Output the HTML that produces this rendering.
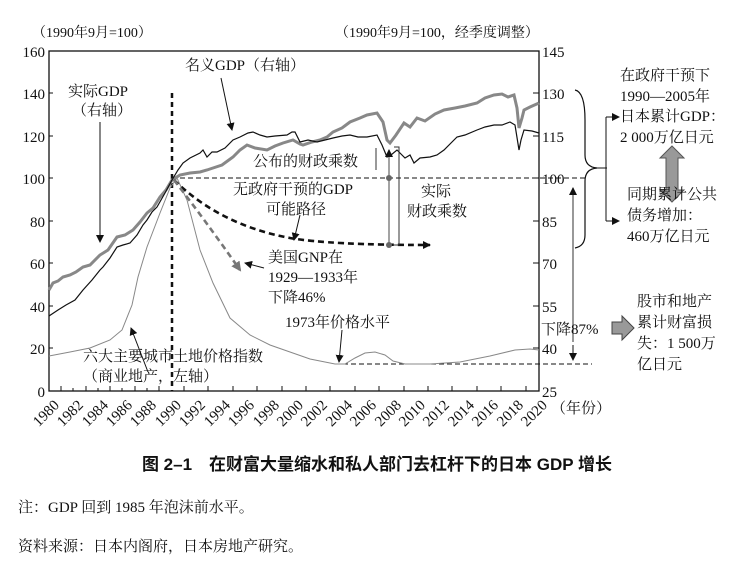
<!DOCTYPE html>
<html><head><meta charset="utf-8"><style>
body{margin:0;background:#fff;width:754px;height:572px;overflow:hidden}
svg text{font-family:"Liberation Serif","Noto Serif CJK SC",serif;fill:#111}
</style></head><body>
<svg width="754" height="572" viewBox="0 0 754 572" xmlns="http://www.w3.org/2000/svg">
<defs>
<marker id="a" markerWidth="8" markerHeight="8" refX="7" refY="4" orient="auto" markerUnits="userSpaceOnUse"><path d="M0,0L8,4L0,8Z" fill="#111"/></marker>
<marker id="g" markerWidth="10" markerHeight="10" refX="8" refY="5" orient="auto" markerUnits="userSpaceOnUse"><path d="M0,0L10,5L0,10Z" fill="#777"/></marker>
</defs>
<g font-size="14">
<text x="32" y="37">（1990年9月=100）</text>
<text x="335" y="37">（1990年9月=100，经季度调整）</text>
</g>
<rect x="49" y="51" width="490" height="340" fill="none" stroke="#111" stroke-width="1.3"/>
<g font-size="15" text-anchor="end">
<text x="45" y="57">160</text><text x="45" y="99">140</text><text x="45" y="142">120</text><text x="45" y="184">100</text><text x="45" y="227">80</text><text x="45" y="269">60</text><text x="45" y="312">40</text><text x="45" y="354">20</text><text x="45" y="397">0</text>
</g>
<g font-size="15">
<text x="542" y="57">145</text><text x="542" y="99">130</text><text x="542" y="142">115</text><text x="542" y="184">100</text><text x="542" y="227">85</text><text x="542" y="269">70</text><text x="542" y="312">55</text><text x="542" y="354">40</text><text x="542" y="397">25</text>
</g>
<g stroke="#111" stroke-width="1">
<path d="M533,93H539M533,136H539M533,178H539M533,221H539M533,263H539M533,306H539M533,348H539"/>
<path d="M49,93H53M49,136H53M49,178H53M49,221H53M49,263H53M49,306H53M49,348H53"/>
</g>
<g font-size="15" text-anchor="end">
<text transform="translate(60,406) rotate(-45)">1980</text>
<text transform="translate(84,406) rotate(-45)">1982</text>
<text transform="translate(109,406) rotate(-45)">1984</text>
<text transform="translate(133,406) rotate(-45)">1986</text>
<text transform="translate(157,406) rotate(-45)">1988</text>
<text transform="translate(182,406) rotate(-45)">1990</text>
<text transform="translate(206,406) rotate(-45)">1992</text>
<text transform="translate(231,406) rotate(-45)">1994</text>
<text transform="translate(255,406) rotate(-45)">1996</text>
<text transform="translate(280,406) rotate(-45)">1998</text>
<text transform="translate(304,406) rotate(-45)">2000</text>
<text transform="translate(328,406) rotate(-45)">2002</text>
<text transform="translate(353,406) rotate(-45)">2004</text>
<text transform="translate(377,406) rotate(-45)">2006</text>
<text transform="translate(402,406) rotate(-45)">2008</text>
<text transform="translate(426,406) rotate(-45)">2010</text>
<text transform="translate(450,406) rotate(-45)">2012</text>
<text transform="translate(475,406) rotate(-45)">2014</text>
<text transform="translate(499,406) rotate(-45)">2016</text>
<text transform="translate(524,406) rotate(-45)">2018</text>
<text transform="translate(548,406) rotate(-45)">2020</text>
</g>
<text x="551" y="413" font-size="15">（年份）</text>
<path d="M61,391V386M73,391V388M86,391V386M98,391V388M110,391V386M122,391V388M135,391V386M147,391V388M159,391V386M184,391V386M208,391V386M233,391V386M257,391V386M282,391V386M306,391V386M330,391V386M355,391V386M379,391V386M404,391V386M428,391V386M452,391V386M477,391V386M501,391V386M526,391V386" stroke="#111"/>
<path d="M172,93V391" stroke="#111" stroke-width="2.5" stroke-dasharray="5,4"/>
<path d="M180,178H585" stroke="#111" stroke-width="1" stroke-dasharray="5,3"/>
<path d="M335,364H592" stroke="#111" stroke-width="1" stroke-dasharray="5,3"/>
<polyline fill="none" stroke="#888" stroke-width="1" points="49,356 70,352 90,348 110,340 122,330 132,305 138,277 147,247 160,213 170,188 177,178 187,200 200,250 213,283 230,318 250,335 270,345 290,352 310,359 335,364 345,364 355,358 365,353 375,352 385,355 393,361 405,364 430,364 460,362 490,356 515,350 530,349 539,350"/>
<polyline fill="none" stroke="#888" stroke-width="3" points="49,290 53,283 58,281 63,277 70,275 76,272 83,267 90,265 100,255 108,250 117,237 125,235 133,230 140,222 147,213 153,208 160,197 166,190 172,180 180,175 190,173 200,172 207,170 213,168 222,165 233,157 240,150 247,145 255,148 267,150 275,146 283,143 293,140 300,144 303,145 312,142 320,140 327,137 333,132 342,128 350,122 360,118 367,115 377,113 383,122 387,140 390,143 396,135 404,123 410,127 417,118 425,121 435,114 444,110 455,108 465,106 477,103 485,98 494,95 502,94 508,97 514,95 517,108 519,128 522,118 524,110 530,107 539,103"/>
<polyline fill="none" stroke="#111" stroke-width="1.2" points="49,316 58,310 66,305 75,300 83,290 92,280 100,270 103,267 110,258 117,247 123,245 130,243 137,235 143,225 147,220 152,212 157,207 165,193 172,180 178,170 183,163 190,158 200,153 203,150 207,157 212,152 217,152 225,148 233,140 240,137 248,133 253,132 260,135 267,137 275,136 287,135 292,132 295,132 300,142 308,140 317,142 325,140 333,138 342,136 350,135 358,137 367,137 377,135 382,145 387,157 391,155 397,150 405,158 410,155 414,163 420,158 430,157 437,155 444,150 452,142 457,137 465,135 477,130 485,127 494,125 502,125 510,122 515,125 519,150 521,140 524,130 532,131 539,133"/>
<path d="M174,180 Q220,225 290,238 Q330,245 430,245" fill="none" stroke="#111" stroke-width="2.6" stroke-dasharray="6,4" marker-end="url(#a)"/>
<path d="M174,180 Q205,220 240,270" fill="none" stroke="#777" stroke-width="2.6" stroke-dasharray="6,4" marker-end="url(#g)"/>
<path d="M389,245V150" stroke="#666" stroke-width="1.2" marker-end="url(#a)"/>
<circle cx="389" cy="178" r="3" fill="#666"/><circle cx="389" cy="245" r="3" fill="#666"/>
<path d="M394,147H399V245H394" fill="none" stroke="#333" stroke-width="1"/>
<path d="M376,148V170" stroke="#333"/>
<path d="M575,90 Q585,92 585,120 L585,155 Q585,167 597,168 Q585,169 585,181 L585,235 Q585,246 575,248" fill="none" stroke="#111" stroke-width="1.2"/>
<path d="M597,168H607M606,117V221M606,117H618M606,221H618" fill="none" stroke="#111"/>
<path d="M612,113L620,117L612,121ZM612,217L620,221L612,225Z" fill="#111"/>
<path d="M573,342V188" stroke="#555" stroke-width="1.2" marker-end="url(#a)"/>
<path d="M573,345V360" stroke="#111" marker-end="url(#a)"/>
<path d="M672,146L684,158H678V190H684L672,202L660,190H666V158H660Z" fill="#999" stroke="#555"/>
<path d="M612,322H622V316L634,328L622,340V334H612Z" fill="#999" stroke="#444"/>
<path d="M100,122V242" stroke="#111" marker-end="url(#a)"/>
<path d="M221,78L232,130" stroke="#111" marker-end="url(#a)"/>
<path d="M300,215L294,240" stroke="#111" marker-end="url(#a)"/>
<path d="M264,268L245,263" stroke="#111" marker-end="url(#a)"/>
<path d="M148,372L131,328" stroke="#111" marker-end="url(#a)"/>
<path d="M342,330L339,362" stroke="#111" marker-end="url(#a)"/>
<g font-size="15">
<text x="68" y="96">实际GDP</text>
<text x="72" y="115">（右轴）</text>
<text x="185" y="70">名义GDP（右轴）</text>
<text x="253" y="166">公布的财政乘数</text>
<text x="233" y="194">无政府干预的GDP</text>
<text x="266" y="214">可能路径</text>
<text x="421" y="196">实际</text>
<text x="407" y="216">财政乘数</text>
<text x="268" y="262">美国GNP在</text>
<text x="268" y="282">1929—1933年</text>
<text x="268" y="302">下降46%</text>
<text x="285" y="327">1973年价格水平</text>
<text x="83" y="361">六大主要城市土地价格指数</text>
<text x="83" y="381">（商业地产，左轴）</text>
<text x="541" y="334">下降87%</text>
<text x="620" y="80">在政府干预下</text>
<text x="620" y="101">1990—2005年</text>
<text x="620" y="121">日本累计GDP：</text>
<text x="620" y="142">2 000万亿日元</text>
<text x="627" y="199">同期累计公共</text>
<text x="627" y="220">债务增加：</text>
<text x="627" y="241">460万亿日元</text>
<text x="637" y="306">股市和地产</text>
<text x="637" y="327">累计财富损</text>
<text x="637" y="348">失：1 500万</text>
<text x="637" y="369">亿日元</text>
</g>
<text x="377" y="470" text-anchor="middle" font-size="17" font-weight="bold" style="font-family:'Liberation Sans','Noto Sans CJK SC',sans-serif">图 2–1　在财富大量缩水和私人部门去杠杆下的日本 GDP 增长</text>
<text x="18" y="512" font-size="15">注：GDP 回到 1985 年泡沫前水平。</text>
<text x="18" y="551" font-size="15">资料来源：日本内阁府，日本房地产研究。</text>
</svg>
</body></html>
